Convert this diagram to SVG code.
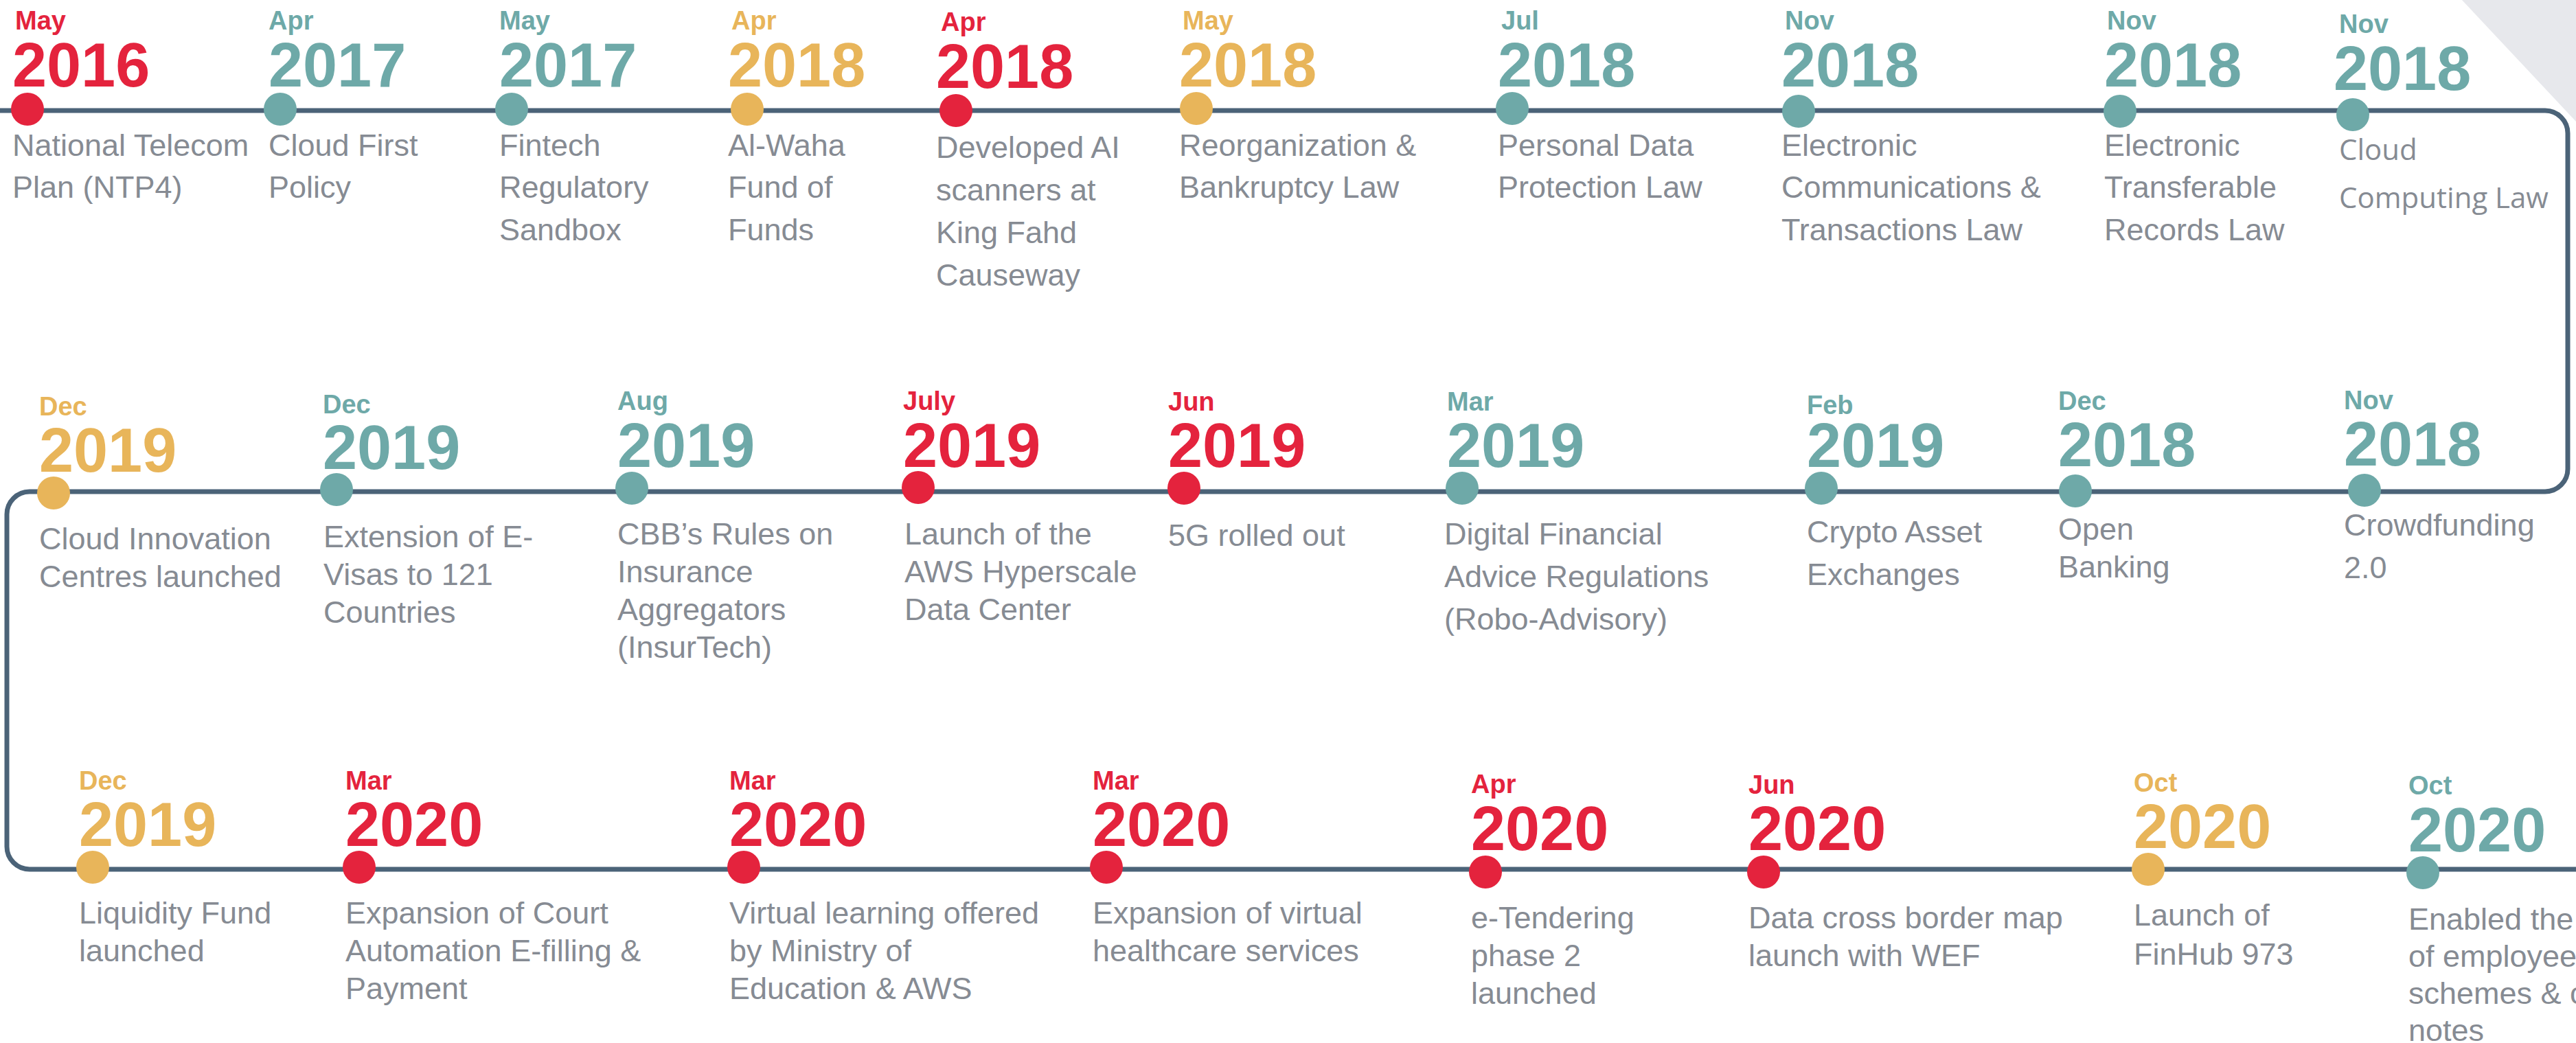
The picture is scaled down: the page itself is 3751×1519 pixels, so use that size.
<svg xmlns="http://www.w3.org/2000/svg" width="3751" height="1519" viewBox="0 0 3751 1519">
<defs>
<style>
.m{font-family:"Liberation Sans",Arial,sans-serif;font-weight:bold;font-size:38px}
.y{font-family:"Liberation Sans",Arial,sans-serif;font-weight:bold;font-size:90px}
.d{font-family:"Liberation Sans",Arial,sans-serif;font-size:45px;fill:#868b93}
.o{font-family:"Open Sans","Liberation Sans",sans-serif;font-size:42px;fill:#868b93}
.r{fill:#e4233d}
.t{fill:#6ea9a8}
.g{fill:#e8b55a}
.line{fill:none;stroke:#4b6378;stroke-width:7}
</style>
</defs>
<rect width="3751" height="1519" fill="#ffffff"/>
<polygon points="3585,0 3751,0 3751,177" fill="#e7e8ec"/>
<g id="connectors">
<path class="line" d="M0,161 H3706 A33,33 0 0 1 3739,194 V683 A33,33 0 0 1 3706,716 H43 A33,33 0 0 0 10,749 V1233 A33,33 0 0 0 43,1266 H3751"/>
</g>
<!-- Row 1 -->
<g id="e2016may"><circle class="r" cx="40" cy="159" r="24"/><text class="m r" x="22" y="43">May</text><text class="y r" x="18" y="126">2016</text><text class="d" x="18" y="227">National Telecom</text><text class="d" x="18" y="288">Plan (NTP4)</text></g>
<g id="e2017apr"><circle class="t" cx="408" cy="159" r="24"/><text class="m t" x="391" y="43">Apr</text><text class="y t" x="391" y="126">2017</text><text class="d" x="391" y="227">Cloud First</text><text class="d" x="391" y="288">Policy</text></g>
<g id="e2017may"><circle class="t" cx="745" cy="159" r="24"/><text class="m t" x="727" y="43">May</text><text class="y t" x="727" y="126">2017</text><text class="d" x="727" y="227">Fintech</text><text class="d" x="727" y="288">Regulatory</text><text class="d" x="727" y="350">Sandbox</text></g>
<g id="e2018apr_a"><circle class="g" cx="1088" cy="159" r="24"/><text class="m g" x="1065" y="43">Apr</text><text class="y g" x="1060" y="126">2018</text><text class="d" x="1060" y="227">Al-Waha</text><text class="d" x="1060" y="288">Fund of</text><text class="d" x="1060" y="350">Funds</text></g>
<g id="e2018apr_b"><circle class="r" cx="1392" cy="161" r="24"/><text class="m r" x="1370" y="45">Apr</text><text class="y r" x="1363" y="128">2018</text><text class="d" x="1363" y="230">Developed AI</text><text class="d" x="1363" y="292">scanners at</text><text class="d" x="1363" y="354">King Fahd</text><text class="d" x="1363" y="416">Causeway</text></g>
<g id="e2018may"><circle class="g" cx="1742" cy="158" r="24"/><text class="m g" x="1722" y="43">May</text><text class="y g" x="1717" y="126">2018</text><text class="d" x="1717" y="227">Reorganization &amp;</text><text class="d" x="1717" y="288">Bankruptcy Law</text></g>
<g id="e2018jul"><circle class="t" cx="2202" cy="158" r="24"/><text class="m t" x="2186" y="43">Jul</text><text class="y t" x="2181" y="126">2018</text><text class="d" x="2181" y="227">Personal Data</text><text class="d" x="2181" y="288">Protection Law</text></g>
<g id="e2018nov_a"><circle class="t" cx="2619" cy="162" r="24"/><text class="m t" x="2599" y="43">Nov</text><text class="y t" x="2594" y="126">2018</text><text class="d" x="2594" y="227">Electronic</text><text class="d" x="2594" y="288">Communications &amp;</text><text class="d" x="2594" y="350">Transactions Law</text></g>
<g id="e2018nov_b"><circle class="t" cx="3087" cy="162" r="24"/><text class="m t" x="3068" y="43">Nov</text><text class="y t" x="3064" y="126">2018</text><text class="d" x="3064" y="227">Electronic</text><text class="d" x="3064" y="288">Transferable</text><text class="d" x="3064" y="350">Records Law</text></g>
<g id="e2018nov_c"><circle class="t" cx="3426" cy="167" r="24"/><text class="m t" x="3406" y="48">Nov</text><text class="y t" x="3398" y="131">2018</text><text class="o" x="3406" y="233">Cloud</text><text class="o" x="3406" y="303">Computing Law</text></g>
<!-- Row 2 -->
<g id="e2019dec_a"><circle class="g" cx="78" cy="718" r="24"/><text class="m g" x="57" y="605">Dec</text><text class="y g" x="57" y="687">2019</text><text class="d" x="57" y="800">Cloud Innovation</text><text class="d" x="57" y="855">Centres launched</text></g>
<g id="e2019dec_b"><circle class="t" cx="490" cy="713" r="24"/><text class="m t" x="470" y="602">Dec</text><text class="y t" x="470" y="683">2019</text><text class="d" x="471" y="797">Extension of E-</text><text class="d" x="471" y="852">Visas to 121</text><text class="d" x="471" y="907">Countries</text></g>
<g id="e2019aug"><circle class="t" cx="920" cy="711" r="24"/><text class="m t" x="899" y="597">Aug</text><text class="y t" x="899" y="680">2019</text><text class="d" x="899" y="793">CBB’s Rules on</text><text class="d" x="899" y="848">Insurance</text><text class="d" x="899" y="903">Aggregators</text><text class="d" x="899" y="958">(InsurTech)</text></g>
<g id="e2019jul"><circle class="r" cx="1337" cy="710" r="24"/><text class="m r" x="1315" y="597">July</text><text class="y r" x="1315" y="680">2019</text><text class="d" x="1317" y="793">Launch of the</text><text class="d" x="1317" y="848">AWS Hyperscale</text><text class="d" x="1317" y="903">Data Center</text></g>
<g id="e2019jun"><circle class="r" cx="1724" cy="711" r="24"/><text class="m r" x="1701" y="598">Jun</text><text class="y r" x="1701" y="680">2019</text><text class="d" x="1701" y="795">5G rolled out</text></g>
<g id="e2019mar"><circle class="t" cx="2129" cy="711" r="24"/><text class="m t" x="2107" y="598">Mar</text><text class="y t" x="2107" y="680">2019</text><text class="d" x="2103" y="793">Digital Financial</text><text class="d" x="2103" y="855">Advice Regulations</text><text class="d" x="2103" y="917">(Robo-Advisory)</text></g>
<g id="e2019feb"><circle class="t" cx="2652" cy="711" r="24"/><text class="m t" x="2631" y="603">Feb</text><text class="y t" x="2631" y="680">2019</text><text class="d" x="2631" y="790">Crypto Asset</text><text class="d" x="2631" y="852">Exchanges</text></g>
<g id="e2018dec"><circle class="t" cx="3022" cy="715" r="24"/><text class="m t" x="2997" y="597">Dec</text><text class="y t" x="2997" y="679">2018</text><text class="d" x="2997" y="786">Open</text><text class="d" x="2997" y="841">Banking</text></g>
<g id="e2018nov_d"><circle class="t" cx="3443" cy="714" r="24"/><text class="m t" x="3413" y="596">Nov</text><text class="y t" x="3413" y="678">2018</text><text class="d" x="3413" y="780">Crowdfunding</text><text class="d" x="3413" y="842">2.0</text></g>
<!-- Row 3 -->
<g id="e2019dec_c"><circle class="g" cx="135" cy="1263" r="24"/><text class="m g" x="115" y="1150">Dec</text><text class="y g" x="115" y="1232">2019</text><text class="d" x="115" y="1345">Liquidity Fund</text><text class="d" x="115" y="1400">launched</text></g>
<g id="e2020mar_a"><circle class="r" cx="523" cy="1263" r="24"/><text class="m r" x="503" y="1150">Mar</text><text class="y r" x="503" y="1232">2020</text><text class="d" x="503" y="1345">Expansion of Court</text><text class="d" x="503" y="1400">Automation E-filling &amp;</text><text class="d" x="503" y="1455">Payment</text></g>
<g id="e2020mar_b"><circle class="r" cx="1083" cy="1263" r="24"/><text class="m r" x="1062" y="1150">Mar</text><text class="y r" x="1062" y="1232">2020</text><text class="d" x="1062" y="1345">Virtual learning offered</text><text class="d" x="1062" y="1400">by Ministry of</text><text class="d" x="1062" y="1455">Education &amp; AWS</text></g>
<g id="e2020mar_c"><circle class="r" cx="1611" cy="1263" r="24"/><text class="m r" x="1591" y="1150">Mar</text><text class="y r" x="1591" y="1232">2020</text><text class="d" x="1591" y="1345">Expansion of virtual</text><text class="d" x="1591" y="1400">healthcare services</text></g>
<g id="e2020apr"><circle class="r" cx="2163" cy="1270" r="24"/><text class="m r" x="2142" y="1155">Apr</text><text class="y r" x="2142" y="1238">2020</text><text class="d" x="2142" y="1352">e-Tendering</text><text class="d" x="2142" y="1407">phase 2</text><text class="d" x="2142" y="1462">launched</text></g>
<g id="e2020jun"><circle class="r" cx="2568" cy="1270" r="24"/><text class="m r" x="2546" y="1156">Jun</text><text class="y r" x="2546" y="1238">2020</text><text class="d" x="2546" y="1352">Data cross border map</text><text class="d" x="2546" y="1407">launch with WEF</text></g>
<g id="e2020oct_a"><circle class="g" cx="3128" cy="1266" r="24"/><text class="m g" x="3107" y="1153">Oct</text><text class="y g" x="3107" y="1235">2020</text><text class="d" x="3107" y="1348">Launch of</text><text class="d" x="3107" y="1405">FinHub 973</text></g>
<g id="e2020oct_b"><circle class="t" cx="3528" cy="1271" r="24"/><text class="m t" x="3507" y="1157">Oct</text><text class="y t" x="3507" y="1240">2020</text><text class="d" x="3507" y="1354">Enabled the</text><text class="d" x="3507" y="1408">of employee</text><text class="d" x="3507" y="1462">schemes &amp; c</text><text class="d" x="3507" y="1516">notes</text></g>
</svg>
